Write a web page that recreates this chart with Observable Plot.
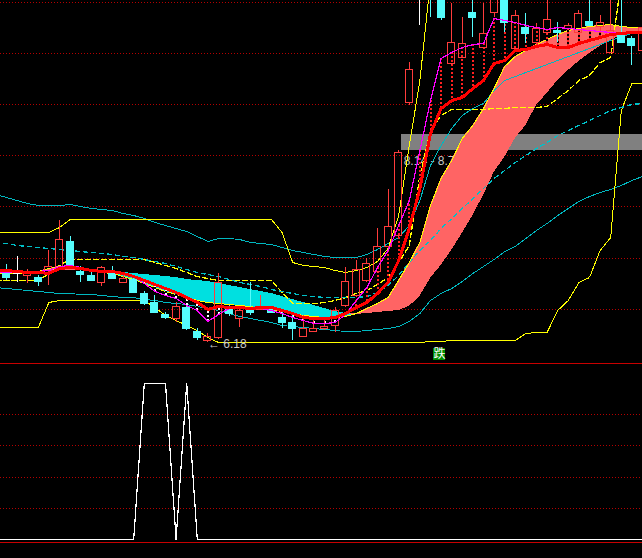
<!DOCTYPE html>
<html><head><meta charset="utf-8">
<script src="https://cdn.jsdelivr.net/npm/d3@7"></script>
<script src="https://cdn.jsdelivr.net/npm/@observablehq/plot@0.6"></script>
<style>
html,body{margin:0;padding:0;background:#000;overflow:hidden;}
#chart svg{display:block;overflow:hidden;}
</style></head><body><div id="chart"></div>
<script>
// bar index of the first value in every array (one bar before the left edge)
const firstBar = -1;

// ---- candle data (price); the first bar is off-screen, so it has no candle ----
const open  = [null, 6.87,6.87,6.85,6.83,6.88,6.93,7.19,6.89,6.85,6.78, 6.87,6.78,6.81,6.67,6.58,6.46,6.42,6.53,6.29,6.20, 6.23,6.52,6.42,6.50,6.51,6.52,6.43,6.38,6.24,6.29, 6.32,6.35,6.55,6.65,6.80,6.89,7.14,7.25,8.58,9.68, 10.20,9.90,8.97,9.03,9.48,9.13,9.48,9.70,9.12,9.33, 9.18,9.28,9.30,9.32,9.28,9.39,9.34,9.08,9.25,9.22,9.10];
const high  = [null, 6.96,7.04,6.91,6.85,7.10,7.40,7.24,6.94,6.88,6.94, 6.94,6.87,6.84,6.69,6.65,6.48,6.58,6.55,6.32,6.27, 6.87,6.55,6.53,6.78,6.65,6.54,6.48,6.47,6.45,6.42, 6.40,6.53,6.93,7.00,7.02,7.32,7.71,8.10,8.98,9.90, 10.30,10.00,9.57,9.43,9.65,9.57,9.90,9.75,9.50,9.47, 9.37,9.65,9.38,9.37,9.50,9.65,9.45,9.65,9.65,9.24,9.40];
const low   = [null, 6.80,6.78,6.77,6.74,6.75,6.90,6.93,6.78,6.79,6.74, 6.81,6.77,6.67,6.55,6.47,6.41,6.38,6.30,6.20,6.18, 6.21,6.44,6.33,6.45,6.50,6.47,6.32,6.20,6.23,6.28, 6.30,6.28,6.53,6.63,6.78,6.87,7.12,7.23,8.55,9.35, 9.43,9.40,8.95,9.02,9.23,9.12,9.43,9.28,9.10,9.17, 9.13,9.26,9.18,9.30,9.26,9.34,9.28,9.07,9.17,8.95,9.08];
const close = [null, 6.83,6.87,6.87,6.79,6.94,7.21,6.94,6.86,6.80,6.93, 6.82,6.82,6.68,6.57,6.48,6.43,6.54,6.32,6.23,6.24, 6.78,6.47,6.50,6.48,6.53,6.48,6.38,6.32,6.32,6.32, 6.34,6.50,6.79,6.91,6.97,7.14,7.34,8.08,8.91,9.68, 9.85,9.43,9.18,9.17,9.43,9.27,9.80,9.38,9.45,9.27, 9.32,9.41,9.28,9.35,9.47,9.35,9.38,9.30,9.18,9.15,9.33];

// ---- indicator lines (price) ----
const maRed     = [6.90, 6.90,6.89,6.88,6.88,6.87,6.92,6.93,6.92,6.90,6.89, 6.89,6.87,6.84,6.80,6.76,6.72,6.68,6.63,6.58,6.51, 6.54,6.53,6.53,6.52,6.53,6.53,6.50,6.47,6.43,6.42, 6.42,6.43,6.47,6.53,6.58,6.67,6.78,7.00,7.32,7.72, 8.27,8.52,8.60,8.63,8.72,8.80,8.97,9.00,9.10,9.11, 9.14,9.16,9.13,9.13,9.17,9.20,9.23,9.26,9.27,9.28,9.28];
const maMagenta = [6.88, 6.88,6.88,6.89,6.89,6.90,6.94,6.95,6.93,6.90,6.89, 6.88,6.88,6.84,6.77,6.69,6.65,6.62,6.55,6.50,6.39, 6.46,6.52,6.52,6.52,6.52,6.50,6.47,6.43,6.40,6.37, 6.37,6.38,6.46,6.60,6.73,6.93,7.10,7.35,7.60,8.10, 8.60,9.02,9.08,9.13,9.16,9.17,9.42,9.40,9.38,9.35, 9.33,9.31,9.33,9.32,9.31,9.30,9.29,9.28,9.28,9.28,9.29];
const cloudFast = [6.87, 6.87,6.87,6.88,6.89,6.92,6.94,6.94,6.91,6.89,6.88, 6.87,6.84,6.81,6.77,6.73,6.69,6.66,6.63,6.60,6.58, 6.57,6.56,6.55,6.54,6.52,6.51,6.49,6.47,6.45,6.44, 6.43,6.43,6.44,6.47,6.52,6.57,6.63,6.80,6.98,7.18, 7.55,7.82,8.00,8.22,8.35,8.52,8.72,8.94,9.04,9.10, 9.16,9.21,9.26,9.30,9.32,9.34,9.35,9.36,9.34,9.33,9.33];
const cloudSlow = [6.90, 6.90,6.89,6.89,6.89,6.89,6.90,6.90,6.90,6.90,6.89, 6.89,6.88,6.87,6.86,6.85,6.84,6.83,6.81,6.80,6.79, 6.77,6.75,6.73,6.71,6.69,6.67,6.64,6.61,6.58,6.55, 6.52,6.49,6.47,6.46,6.47,6.48,6.49,6.50,6.54,6.64, 6.82,6.95,7.10,7.27,7.45,7.65,7.88,8.03,8.22,8.35, 8.55,8.67,8.80,8.90,8.99,9.07,9.14,9.20,9.25,9.28,9.29];
const maYellowDash = [6.80, 6.80,6.80,6.80,6.80,6.87,6.95,7.01,7.01,7.01,7.01, 7.01,7.01,7.01,7.01,6.98,6.95,6.92,6.88,6.84,6.82, 6.80,6.80,6.80,6.80,6.80,6.80,6.68,6.57,6.57,6.57, 6.58,6.60,6.63,6.67,6.70,6.76,6.83,6.98,7.15,7.85, 8.30,8.45,8.51,8.51,8.51,8.51,8.52,8.52,8.53,8.53, 8.53,8.54,8.62,8.70,8.80,8.85,8.98,9.03,9.80,null,null];
const maCyanDash = [7.18, 7.17,7.15,7.14,7.13,7.12,7.11,7.10,7.09,7.08,7.07, 7.06,7.04,7.03,7.01,6.99,6.97,6.94,6.91,6.88,6.86, 6.84,6.81,6.78,6.76,6.74,6.71,6.69,6.67,6.65,6.64, 6.63,6.63,6.63,6.63,6.64,6.68,6.75,6.85,6.98,7.10, 7.20,7.32,7.42,7.52,7.62,7.72,7.82,7.90,7.98,8.05, 8.12,8.18,8.25,8.30,8.35,8.40,8.45,8.50,8.53,8.56,8.57];
const bollUpper = [7.66, 7.63,7.60,7.57,7.55,7.55,7.55,7.56,7.54,7.52,7.51, 7.50,7.47,7.45,7.42,7.38,7.35,7.32,7.29,7.24,7.19, 7.22,7.22,7.21,7.18,7.17,7.16,7.13,7.10,7.08,7.06, 7.04,7.03,7.03,7.03,7.06,7.11,7.17,7.23,7.35,7.60, 7.95,8.15,8.32,8.45,8.52,8.57,8.70,8.80,8.84,8.88, 8.92,8.96,9.00,9.04,9.08,9.12,9.16,9.20,9.24,9.27,9.28];
const bollLower = [6.73, 6.72,6.71,6.70,6.69,6.68,6.67,6.67,6.66,6.66,6.65, 6.64,6.63,6.63,6.61,6.60,6.58,6.57,6.56,6.54,6.52, 6.50,6.47,6.44,6.42,6.40,6.38,6.35,6.34,6.33,6.32, 6.31,6.30,6.29,6.29,6.30,6.31,6.32,6.34,6.39,6.47, 6.60,6.67,6.72,6.79,6.87,6.94,7.01,7.09,7.14,7.22, 7.30,7.37,7.45,7.52,7.59,7.64,7.68,7.71,7.75,7.80,7.84];
const chanUpper = [7.28, 7.28,7.28,7.28,7.28,7.28,7.33,7.41,7.41,7.41,7.41, 7.41,7.41,7.41,7.41,7.41,7.41,7.41,7.41,7.41,7.41, 7.41,7.41,7.41,7.41,7.41,7.41,7.28,6.98,6.95,6.94, 6.93,6.90,6.88,6.90,6.93,6.99,7.12,7.45,8.15,8.80, 9.80,null,null,null,null,null,null,null,null,null, null,null,null,null,null,null,null,null,null,null,null];
const chanLower = [6.33, 6.33,6.33,6.33,6.33,6.58,6.60,6.60,6.60,6.60,6.60, 6.60,6.60,6.60,6.60,6.53,6.45,6.40,6.35,6.30,6.23, 6.18,6.18,6.18,6.18,6.18,6.18,6.18,6.18,6.18,6.18, 6.18,6.18,6.18,6.18,6.18,6.18,6.18,6.18,6.18,6.18, 6.19,6.19,6.20,6.20,6.20,6.20,6.20,6.20,6.20,6.27, 6.28,6.28,6.50,6.60,6.78,6.83,7.10,7.23,8.50,8.77,8.77];

// ---- lower panel signal (0..100) ----
const signal = [0, 0,0,0,0,0,0,0,0,0,0, 0,0,0,100,100,100,0,100,0,0, 0,0,0,0,0,0,0,0,0,0, 0,0,0,0,0,0,0,0,0,0, 0,0,0,0,0,0,0,0,0,0, 0,0,0,0,0,0,0,0,0,0,0];

// ---- tick / grid levels and labels ----
const gridPrices = [9.58, 9.07, 8.56, 8.05, 7.54, 7.02, 6.51];
const lowerGrid = [80, 60, 40, 20];
const lowerFrame = [112.8, -1.92];
const rangeLabel = "8.14 - 8.72";
const signalLabel = "跌";

const UP = "#ff3c3c", DOWN = "#54fcfc", DOJI = "#ffffff";
const rows = maRed.map((r, k) => ({
  i: k + firstBar, o: open[k], h: high[k], l: low[k], c: close[k],
  r, m: maMagenta[k], u: cloudFast[k], s: cloudSlow[k],
  yd: maYellowDash[k], cd: maCyanDash[k], bu: bollUpper[k], bl: bollLower[k],
  cu: chanUpper[k], cl: chanLower[k], w: signal[k]
}));
const bars = rows.filter(d => d.o != null);
const col = d => d.c > d.o ? UP : d.c < d.o ? DOWN : DOJI;
const lowest = bars.reduce((a, b) => b.l < a.l ? b : a);
const hw = 0.33;

const X = {domain: [0, 60], range: [6, 642], axis: null};

const upper = Plot.plot({
  width: 642, height: 363, margin: 0,
  x: X,
  y: {domain: [5.97, 9.60], range: [363, 0], axis: null},
  color: {type: "identity"},
  style: {background: "#000"},
  marks: [
    Plot.ruleY(gridPrices, {stroke: "#b40000", strokeDasharray: "1,2"}),
    Plot.rect([0], {x1: () => 37.26, x2: () => 61, y1: () => 8.10, y2: () => 8.26, fill: "#808080"}),
    Plot.text([rangeLabel], {x: () => 37, y: () => 7.995, text: d => d, dx: 5, textAnchor: "start", fill: "#c8c8c8", fontSize: 12, fontFamily: "Liberation Sans"}),
    Plot.areaY(rows, {x: "i", y1: "s", y2: d => Math.min(d.u, d.s), fill: "#00e0e0"}),
    Plot.areaY(rows, {x: "i", y1: "s", y2: d => Math.max(d.u, d.s), fill: "#ff6464"}),
    Plot.line(rows, {x: "i", y: "bu", stroke: "#00b8c0", strokeWidth: 1}),
    Plot.line(rows, {x: "i", y: "bl", stroke: "#00b8c0", strokeWidth: 1}),
    Plot.line(rows, {x: "i", y: "cu", stroke: "#ffff00", strokeWidth: 1}),
    Plot.line(rows, {x: "i", y: "cl", stroke: "#ffff00", strokeWidth: 1}),
    Plot.line(rows, {x: "i", y: "yd", stroke: "#ffff00", strokeWidth: 1.3, strokeDasharray: "5,3"}),
    Plot.line(rows, {x: "i", y: "cd", stroke: "#00c0c8", strokeWidth: 1.3, strokeDasharray: "4,4"}),
    Plot.line(rows, {x: "i", y: "u", stroke: "#ffff00", strokeWidth: 1}),
    Plot.ruleX(bars, {x: "i", y1: "m", y2: "r", stroke: "#000", strokeWidth: 2}),
    Plot.ruleX(bars, {x: "i", y1: "m", y2: "r", stroke: d => d.m > d.r ? "#ff2020" : "#ffffff", strokeWidth: 2, strokeDasharray: "2,2"}),
    Plot.ruleX(bars, {x: "i", y1: d => Math.max(d.o, d.c), y2: "h", stroke: col}),
    Plot.ruleX(bars, {x: "i", y1: "l", y2: d => Math.min(d.o, d.c), stroke: col}),
    Plot.rect(bars.filter(d => d.c < d.o), {x1: d => d.i - hw, x2: d => d.i + hw, y1: "c", y2: "o", fill: DOWN, stroke: DOWN}),
    Plot.rect(bars.filter(d => d.c > d.o), {x1: d => d.i - hw, x2: d => d.i + hw, y1: "o", y2: "c", fill: "none", stroke: UP}),
    Plot.ruleY(bars.filter(d => d.c === d.o), {y: "c", x1: d => d.i - hw, x2: d => d.i + hw, stroke: DOJI}),
    Plot.line(rows, {x: "i", y: "m", stroke: "#ff00ff", strokeWidth: 1.2}),
    Plot.line(rows, {x: "i", y: "r", stroke: "#ff0000", strokeWidth: 3}),
    Plot.text([lowest], {x: "i", y: "l", text: d => "← " + d.l.toFixed(2), dx: 0, dy: 2, textAnchor: "start", fill: "#c8c8c8", fontSize: 12, fontFamily: "Liberation Sans"}),
    Plot.rect([0], {x1: () => 40.28, x2: () => 41.42, y1: () => 6.00, y2: () => 6.12, fill: "#008c00"}),
    Plot.text([signalLabel], {x: () => 40.85, y: () => 6.06, text: d => d, fill: "#ffffff", fontSize: 12, fontFamily: "Noto Sans CJK SC"})
  ]
});

const lower = Plot.plot({
  width: 642, height: 195, margin: 0,
  x: X,
  y: {domain: [0, 100], range: [176, 20], axis: null},
  style: {background: "#000"},
  marks: [
    Plot.ruleY(lowerGrid, {stroke: "#b40000", strokeDasharray: "1,2"}),
    Plot.ruleY(lowerFrame, {stroke: "#c80000"}),
    Plot.line(rows, {x: "i", y: "w", stroke: "#ffffff", strokeWidth: 1.2})
  ]
});

for (const svg of [upper, lower]) svg.setAttribute("shape-rendering", "crispEdges");
const host = document.getElementById("chart");
host.append(upper, lower);
</script>
</body></html>
